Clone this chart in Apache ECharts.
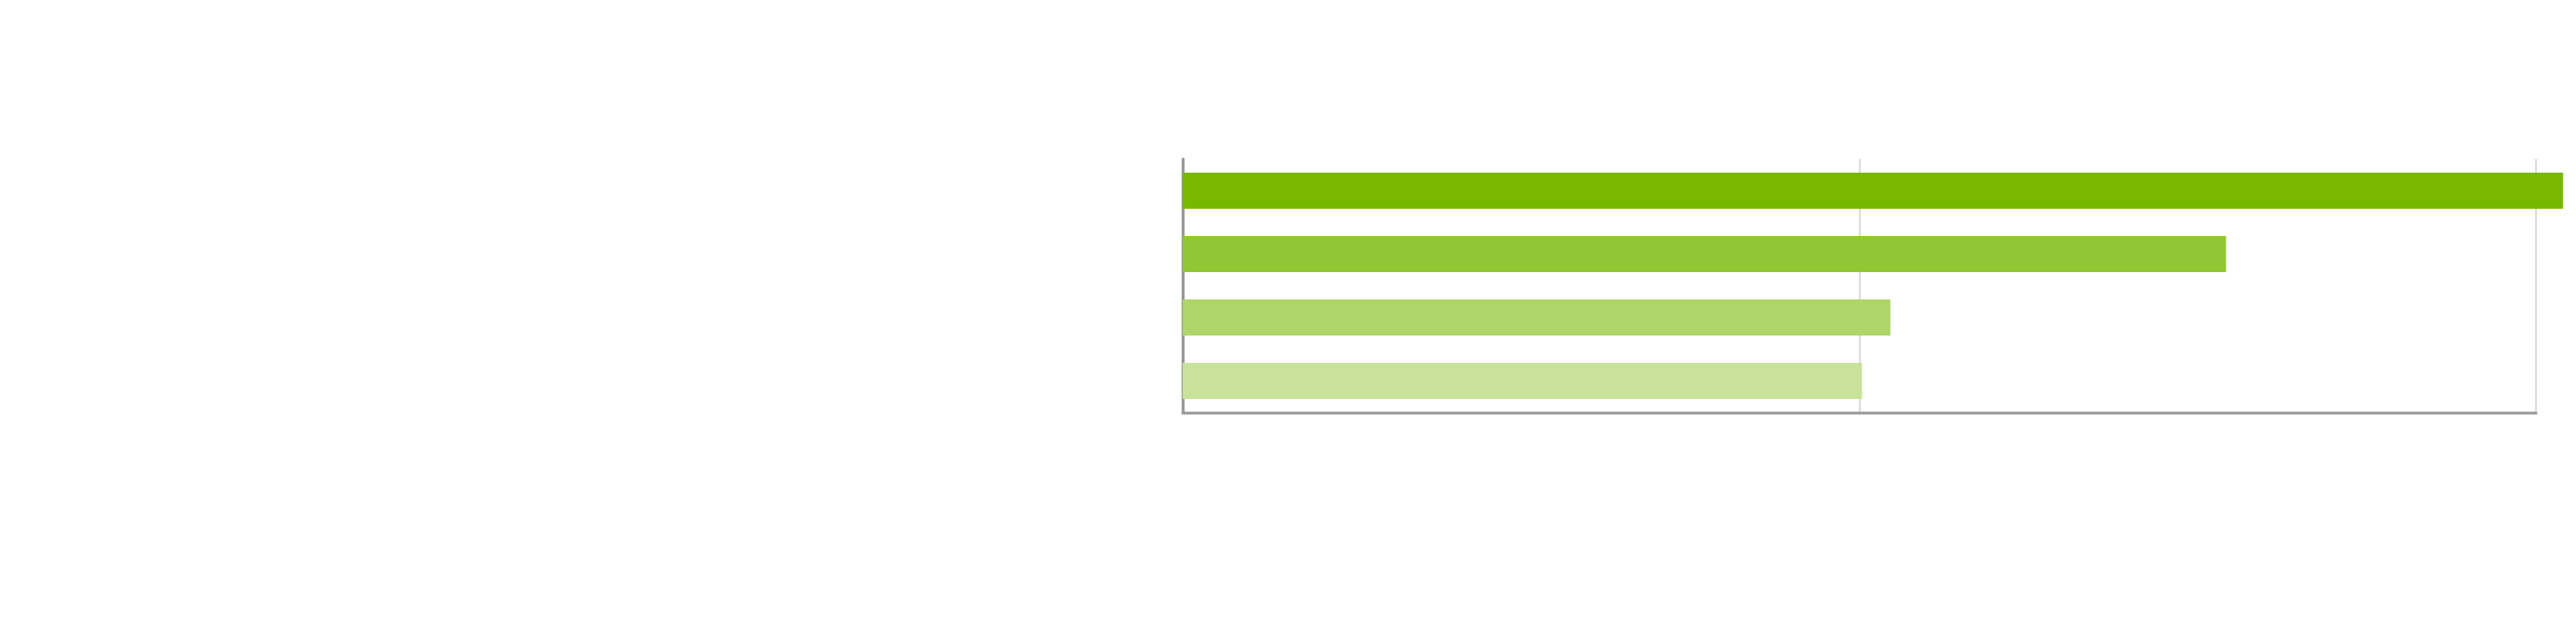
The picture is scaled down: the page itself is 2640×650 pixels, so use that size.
<!DOCTYPE html>
<html>
<head>
<meta charset="utf-8">
<script src="https://cdn.jsdelivr.net/npm/echarts@6/dist/echarts.min.js"></script>
<style>
  html, body { margin: 0; padding: 0; background: #fff; }
  #chart { width: 2640px; height: 650px; }
</style>
</head>
<body>
<div id="chart"></div>
<script>
// categories have no visible labels in the picture
const categories = ['1', '2', '3', '4'];
const values = [102, 77.1, 52.3, 50.2];
const barColors = ['#78b800', '#92c634', '#aed56a', '#c9e29b'];
const xTicks = [0, 50, 100];

let chart = echarts.init(document.getElementById('chart'));

let option = {
    animation: false,
    grid: {
        left: 1212,
        right: 41,
        top: 163,
        bottom: 227
    },
    xAxis: {
        type: 'value',
        min: xTicks[0],
        max: xTicks[xTicks.length - 1],
        interval: xTicks[1] - xTicks[0],
        axisLabel: { show: false },
        axisTick: { show: false },
        axisLine: { show: true, lineStyle: { color: '#a0a0a0', width: 3 } },
        splitLine: { show: true, lineStyle: { color: '#dcdcdc', width: 2 } }
    },
    yAxis: {
        type: 'category',
        inverse: true,
        data: categories,
        axisLabel: { show: false },
        axisTick: { show: false },
        axisLine: { show: true, lineStyle: { color: '#999999', width: 3 } }
    },
    series: [{
        type: 'bar',
        clip: false,
        barWidth: 37,
        data: values.map(function (v, i) {
            return { value: v, itemStyle: { color: barColors[i] } };
        })
    }]
};
chart.setOption(option);
</script>
</body>
</html>
